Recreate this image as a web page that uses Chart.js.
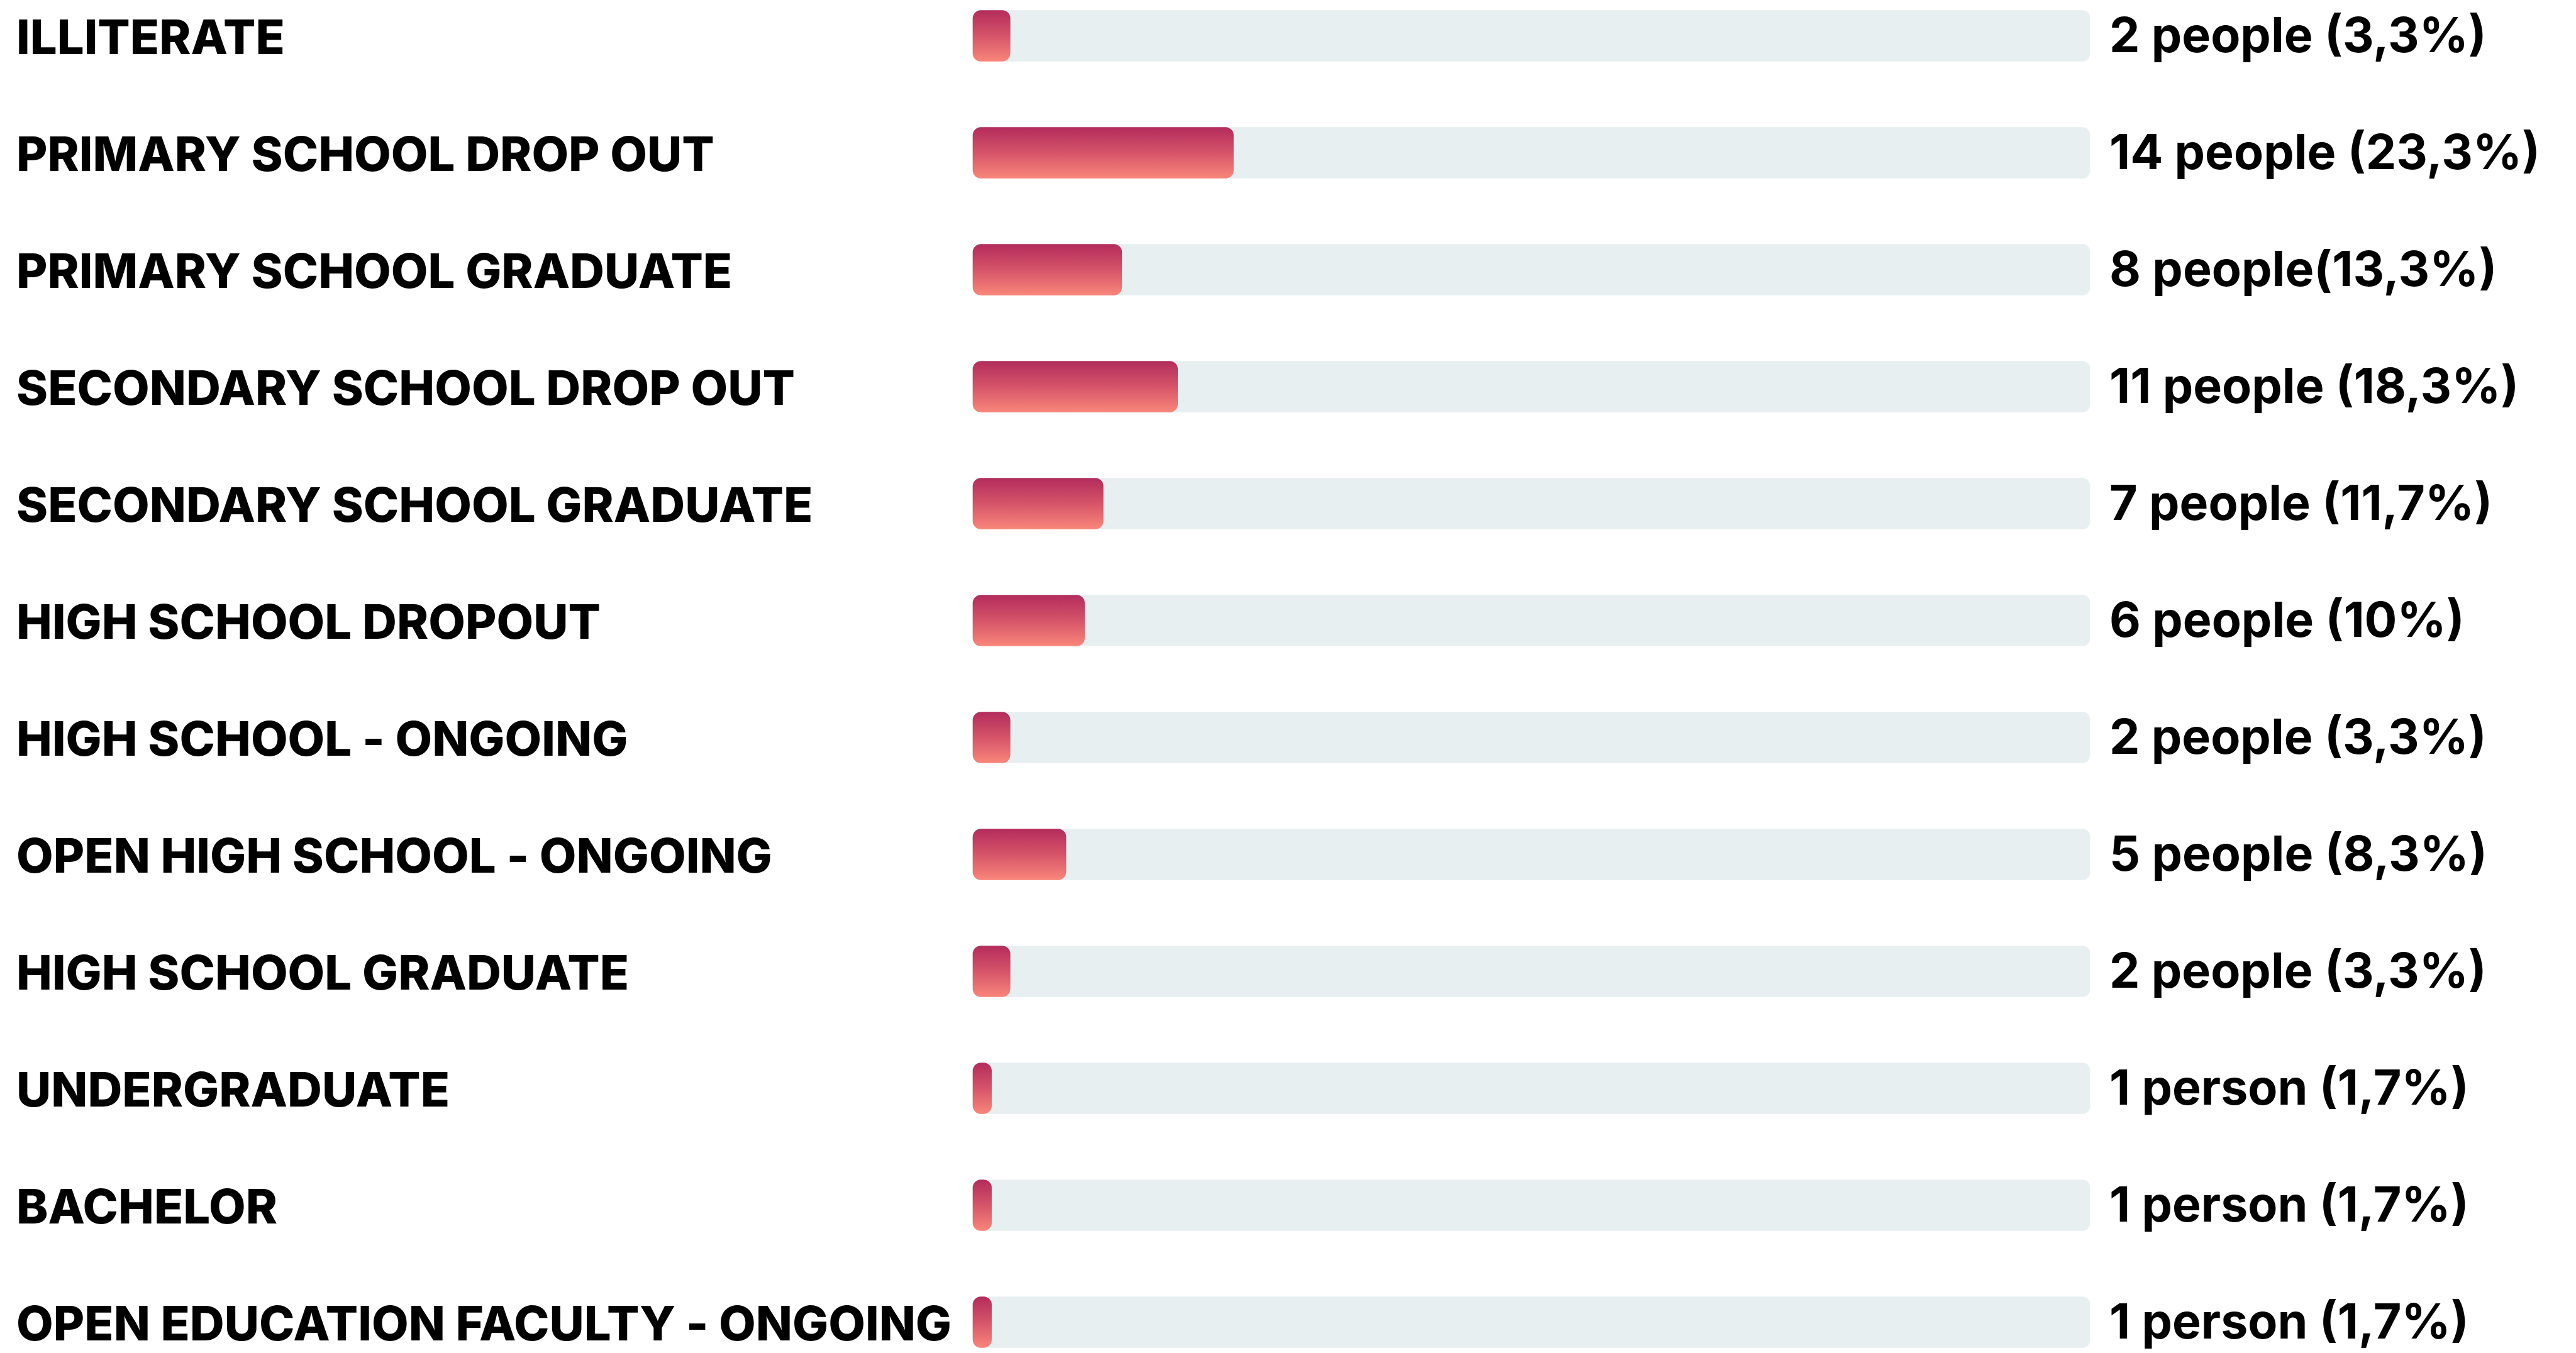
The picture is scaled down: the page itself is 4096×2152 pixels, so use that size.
<!DOCTYPE html>
<html>
<head>
<meta charset="utf-8">
<script src="https://cdn.jsdelivr.net/npm/chart.js@4/dist/chart.umd.min.js"></script>
<style>
  html, body { margin: 0; padding: 0; background: #ffffff; }
  #wrap { width: 4096px; height: 2152px; }
</style>
</head>
<body>
<div id="wrap"><canvas id="chart_edu"></canvas></div>
<script>
// education levels, people counts, and the text printed after each track
const categories = [
    "ILLITERATE",
    "PRIMARY SCHOOL DROP OUT",
    "PRIMARY SCHOOL GRADUATE",
    "SECONDARY SCHOOL DROP OUT",
    "SECONDARY SCHOOL GRADUATE",
    "HIGH SCHOOL DROPOUT",
    "HIGH SCHOOL - ONGOING",
    "OPEN HIGH SCHOOL - ONGOING",
    "HIGH SCHOOL GRADUATE",
    "UNDERGRADUATE",
    "BACHELOR",
    "OPEN EDUCATION FACULTY - ONGOING"
];
const people = [2, 14, 8, 11, 7, 6, 2, 5, 2, 1, 1, 1];
const totalPeople = 60;
const trackValues = categories.map(() => totalPeople);
const valueLabels = [
    "2 people (3,3%)",
    "14 people (23,3%)",
    "8 people(13,3%)",
    "11 people (18,3%)",
    "7 people (11,7%)",
    "6 people (10%)",
    "2 people (3,3%)",
    "5 people (8,3%)",
    "2 people (3,3%)",
    "1 person (1,7%)",
    "1 person (1,7%)",
    "1 person (1,7%)"
];

const BAR_H = 81;

function barGradient(context) {
    const chart = context.chart;
    const yScale = chart.scales.y;
    if (!yScale || context.dataIndex === undefined) return "#d4506a";
    const yc = yScale.getPixelForValue(context.dataIndex);
    if (!isFinite(yc)) return "#d4506a";
    const g = chart.ctx.createLinearGradient(0, yc - BAR_H / 2, 0, yc + BAR_H / 2);
    g.addColorStop(0, "#b32c5c");
    g.addColorStop(0.5, "#d65469");
    g.addColorStop(1, "#f9867a");
    return g;
}

// keep the tick labels from pushing the plot area in
function fixWidth(w) {
    return (scale) => {
        scale.width = w;
        scale.paddingTop = 0;
        scale.paddingBottom = 0;
    };
}

const ctx = document.getElementById("chart_edu");
const eduChart = new Chart(ctx, {
    type: "bar",
    data: {
        labels: categories,
        datasets: [
            {
                label: "people",
                data: people,
                backgroundColor: barGradient,
                borderRadius: 13,
                borderSkipped: false,
                barThickness: BAR_H,
                grouped: false,
                order: 0,
                clip: false
            },
            {
                label: "track",
                data: trackValues,
                backgroundColor: "#e8eff1",
                borderRadius: 12,
                borderSkipped: false,
                barThickness: BAR_H,
                grouped: false,
                order: 1,
                clip: false
            }
        ]
    },
    options: {
        indexAxis: "y",
        responsive: true,
        maintainAspectRatio: false,
        animation: false,
        devicePixelRatio: 1,
        layout: { padding: { left: 26, right: 0, top: 57, bottom: 49 } },
        plugins: {
            legend: { display: false },
            tooltip: { enabled: false }
        },
        scales: {
            x: {
                display: false,
                min: 0,
                max: totalPeople
            },
            y: {
                type: "category",
                position: "left",
                offset: false,
                grid: { display: false, drawTicks: false },
                border: { display: false },
                ticks: {
                    crossAlign: "far",
                    padding: 0,
                    labelOffset: 6,
                    color: "#000000",
                    font: { family: "Inter", weight: "800", size: 76 },
                    autoSkip: false
                },
                afterFit: fixWidth(1547 - 26)
            },
            y2: {
                type: "category",
                position: "right",
                labels: valueLabels,
                offset: false,
                grid: { display: false, drawTicks: false },
                border: { display: false },
                ticks: {
                    crossAlign: "near",
                    padding: 31,
                    labelOffset: 3,
                    color: "#000000",
                    font: { family: "Inter", weight: "700", size: 77 },
                    autoSkip: false
                },
                afterFit: fixWidth(4096 - 3323)
            }
        }
    }
});
</script>
</body>
</html>
